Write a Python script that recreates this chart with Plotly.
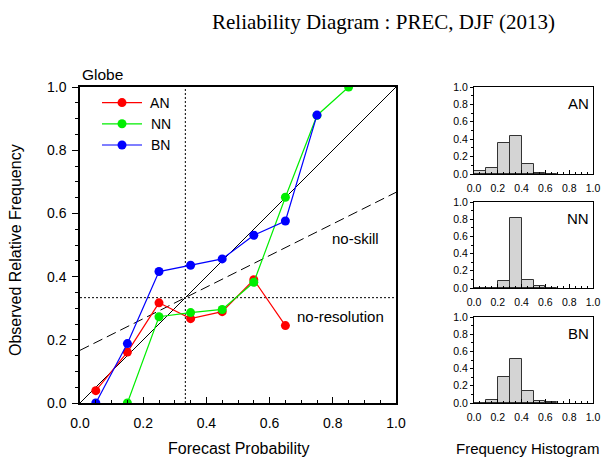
import plotly.graph_objects as go

# ---- data ----
an_x = [0.05, 0.15, 0.25, 0.35, 0.45, 0.55, 0.65]
an_y = [0.039, 0.161, 0.317, 0.267, 0.289, 0.39, 0.245]
nn_x = [0.15, 0.25, 0.35, 0.45, 0.55, 0.65, 0.75, 0.85]
nn_y = [0.0, 0.273, 0.286, 0.296, 0.382, 0.651, 0.91, 1.0]
bn_x = [0.05, 0.15, 0.25, 0.35, 0.45, 0.55, 0.65, 0.75]
bn_y = [0.0, 0.188, 0.416, 0.436, 0.456, 0.531, 0.576, 0.911]

hist_x = [0.05, 0.15, 0.25, 0.35, 0.45, 0.55, 0.65]
an_hist = [0.03, 0.065, 0.354, 0.435, 0.115, 0.01, 0.0]
nn_hist = [0.0, 0.0, 0.081, 0.818, 0.089, 0.02, 0.0]
bn_hist = [0.0, 0.03, 0.30, 0.51, 0.14, 0.02, 0.008]

clim = 1.0 / 3.0
title = "Reliability Diagram : PREC, DJF (2013)"
tick_vals = [0, 0.2, 0.4, 0.6, 0.8, 1.0]

W, H = 610, 457
def px(x):
    return x / W
def py(y):
    return 1 - y / H

SANS = "Liberation Sans, Arial, Helvetica, sans-serif"
fig = go.Figure()

# reference lines in main plot
fig.add_trace(go.Scatter(x=[0, 1], y=[0, 1], mode="lines",
                         line=dict(color="black", width=1), showlegend=False,
                         xaxis="x", yaxis="y", hoverinfo="skip"))
fig.add_trace(go.Scatter(x=[0, 1], y=[clim / 2, clim / 2 + 0.5], mode="lines",
                         line=dict(color="black", width=1, dash="10px,5px"), showlegend=False,
                         xaxis="x", yaxis="y", hoverinfo="skip"))
fig.add_trace(go.Scatter(x=[0, 1], y=[clim, clim], mode="lines",
                         line=dict(color="black", width=1, dash="2px,2px"), showlegend=False,
                         xaxis="x", yaxis="y", hoverinfo="skip"))
fig.add_trace(go.Scatter(x=[clim, clim], y=[0, 1], mode="lines",
                         line=dict(color="black", width=1, dash="2px,2px"), showlegend=False,
                         xaxis="x", yaxis="y", hoverinfo="skip"))

series = [("AN", an_x, an_y, "#ff0000"),
          ("NN", nn_x, nn_y, "#00ee00"),
          ("BN", bn_x, bn_y, "#0000ff")]
for name, xs, ys, c in series:
    fig.add_trace(go.Scatter(x=xs, y=ys, mode="lines+markers", name=" " + name,
                             line=dict(color=c, width=1.2),
                             marker=dict(color=c, size=9),
                             xaxis="x", yaxis="y"))

# histograms
hists = [("AN", an_hist), ("NN", nn_hist), ("BN", bn_hist)]
for i, (name, vals) in enumerate(hists):
    k = i + 2
    fig.add_trace(go.Bar(x=hist_x, y=vals, width=0.1,
                         marker=dict(color="#d4d4d4", line=dict(color="#333333", width=1)),
                         showlegend=False, xaxis=f"x{k}", yaxis=f"y{k}"))

main_x = [px(80), px(396)]
main_y = [py(403), py(87)]
hist_x_dom = [px(474), px(593)]
hist_y_doms = [[py(174), py(87)], [py(288), py(202)], [py(403), py(317)]]

layout = dict(
    template="none",
    width=W, height=H, margin=dict(l=0, r=0, t=0, b=0, pad=0, autoexpand=False),
    paper_bgcolor="white", plot_bgcolor="white",
    font=dict(family=SANS, color="black"),
    showlegend=True,
    legend=dict(x=px(97), y=py(87), xanchor="left", yanchor="top",
                bgcolor="rgba(0,0,0,0)", font=dict(size=14, family=SANS),
                tracegroupgap=0, itemwidth=40),
    bargap=0,
)

axis_common = dict(showgrid=False, zeroline=False, showline=True, linecolor="black",
                   mirror=True, ticks="outside", tickcolor="black", automargin=False)

layout["xaxis"] = dict(axis_common, domain=main_x, range=[0, 1], anchor="y",
                       ticks="inside", tickvals=tick_vals, tickformat=".1f",
                       ticklen=6, linewidth=1.5, tickfont=dict(size=14), ticklabelstandoff=6,
                       minor=dict(dtick=0.05, ticks="inside", ticklen=3, tickcolor="black"))
layout["yaxis"] = dict(axis_common, domain=main_y, range=[0, 1], anchor="x",
                       ticks="outside", tickvals=tick_vals, tickformat=".1f",
                       ticklen=6, linewidth=1.5, tickfont=dict(size=14), ticklabelstandoff=3,
                       minor=dict(dtick=0.05, ticks="outside", ticklen=3, tickcolor="black"))
for i, dom in enumerate(hist_y_doms):
    k = i + 2
    layout[f"xaxis{k}"] = dict(axis_common, domain=hist_x_dom, range=[0, 1], anchor=f"y{k}",
                               ticks="inside", tickvals=tick_vals, tickformat=".1f",
                               ticklen=4, linewidth=1.2, tickfont=dict(size=10.5),
                               ticklabelstandoff=4,
                               minor=dict(dtick=0.05, ticks="inside", ticklen=2, tickcolor="black"))
    layout[f"yaxis{k}"] = dict(axis_common, domain=dom, range=[0, 1], anchor=f"x{k}",
                               ticks="outside", tickvals=tick_vals, tickformat=".1f",
                               ticklen=3, linewidth=1.2, tickfont=dict(size=10.5),
                               minor=dict(dtick=0.1, ticks="outside", ticklen=2, tickcolor="black"))

def note(text, x, y, size, **kw):
    d = dict(text=text, x=x, y=y, xref="paper", yref="paper", showarrow=False,
             xanchor="center", yanchor="middle", font=dict(size=size))
    d.update(kw)
    return d

annotations = [
    note(title, px(383), py(22), 21,
         font=dict(family="Liberation Serif, Times New Roman, serif", size=21)),
    note("Globe", px(80), py(75), 15.5, xanchor="left"),
    note("Observed Relative Frequency", px(16), py(250), 16, textangle=-90),
    note("Forecast Probability", px(238), py(448), 16),
    note("Frequency Histogram", px(527), py(448), 15),
    dict(text="no-skill", x=0.873, y=0.522, xref="x", yref="y", showarrow=False,
         xanchor="center", yanchor="middle", font=dict(size=15)),
    dict(text="no-resolution", x=0.824, y=0.273, xref="x", yref="y", showarrow=False,
         xanchor="center", yanchor="middle", font=dict(size=15)),
]
for i, (name, _) in enumerate(hists):
    k = i + 2
    annotations.append(dict(text=name, x=0.985, y=0.81, xref=f"x{k}", yref=f"y{k}",
                            xanchor="right", yanchor="middle", showarrow=False,
                            font=dict(size=15)))
layout["annotations"] = annotations

fig.update_layout(**layout)
fig.write_html("out.html")
